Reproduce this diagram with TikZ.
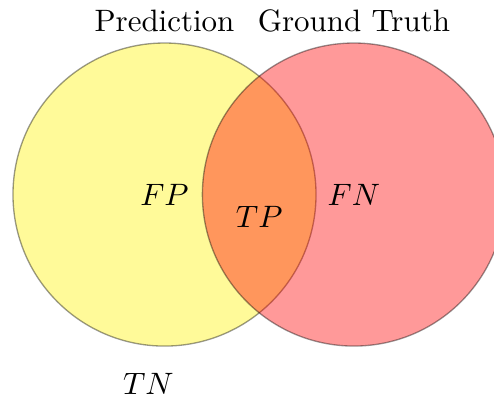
\documentclass[tikz,border=0pt]{standalone}
\usepackage{amsmath,amssymb}
\usepackage{tikz}

\begin{document}
\begin{tikzpicture}[every node/.style={scale=0.93}]
  \useasboundingbox (-1.737,-2.170) rectangle (3.479,2.054);
  % Venn circles (prediction first, ground truth on top)
  \foreach \cx/\col in {0/yellow, 2/red} {
    \draw[fill=\col,opacity=0.4] (\cx,0) circle (1.6);
  }
  % set labels
  \node (pred) at (0,1.83) {Prediction};
  \node (gt) at (2,1.83) {Ground Truth};
  % regions
  \node (fp) at (0,0) {$FP$};
  \node (tp) at (1,-0.24) {$TP$};
  \node (fn) at (2,0) {$FN$};
  \node (tn) at (-0.17,-2) {$TN$};
\end{tikzpicture}
\end{document}
